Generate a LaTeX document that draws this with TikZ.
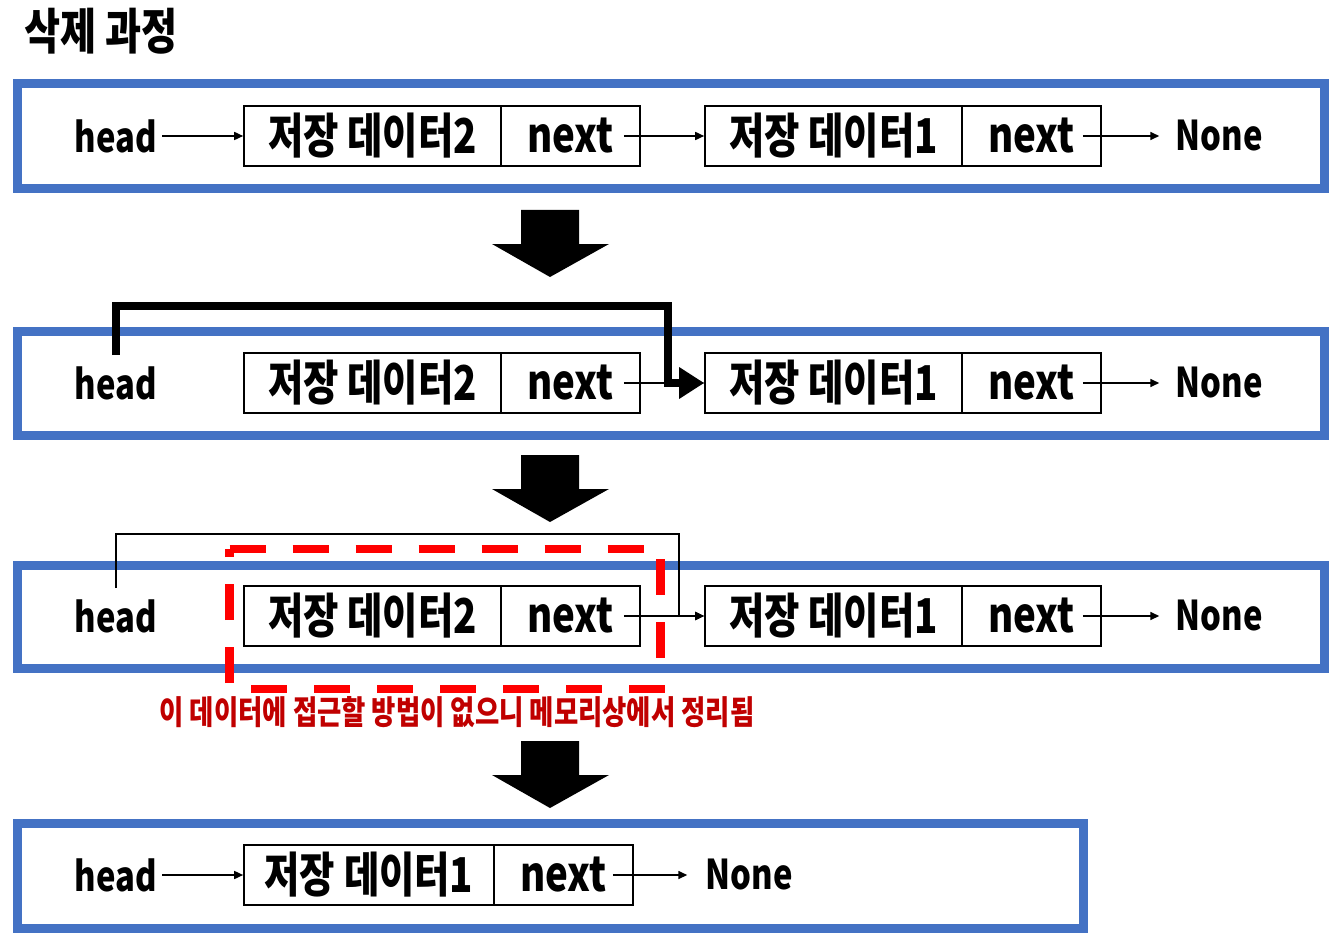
\documentclass[tikz,border=0pt]{standalone}
\usepackage{fontspec}
\usetikzlibrary{arrows.meta,calc}
\newfontfamily\kr{Noto Sans CJK KR Black}[FakeStretch=0.8]
\definecolor{pblue}{HTML}{4472C4}
\definecolor{dred}{HTML}{C00000}
\begin{document}
\begin{tikzpicture}[x=1pt,y=-1pt,
  panel/.style={draw=pblue, line width=9pt},
  cell/.style={draw, line width=1.6pt, minimum height=60pt, inner sep=0pt, font=\kr\fontsize{48}{52}\selectfont},
  lbl/.style={inner sep=0pt, font=\kr\fontsize{41}{45}\selectfont},
  ptr/.style={line width=1.6pt, -{Triangle[length=9pt,width=8pt]}},
  bigdown/.style={fill=black},
  jump/.style={line width=8pt, line join=miter, -{Triangle[length=25pt,width=30pt]}},
  thinjump/.style={line width=2.4pt, -{Triangle[length=9pt,width=8pt]}},
  gone/.style={draw=red, line width=8.5pt, dash pattern=on 36pt off 27pt}
]
\useasboundingbox (0,0) rectangle (1329,933);

% title
\node[inner sep=0pt, font=\kr\fontsize{49}{53}\selectfont] (title) at (101,31) {삭제 과정};

% ---------- panel 1 ----------
\draw[panel] (17.5,83.5) rectangle (1324.5,188.5);
\node[lbl] (h1) at (116,136) {head};
\node[cell, minimum width=257pt] (d1a) at (372.5,136) {저장 데이터2};
\node[cell, minimum width=139pt] (n1a) at (570.5,136) {next};
\node[cell, minimum width=257pt] (d1b) at (833.5,136) {저장 데이터1};
\node[cell, minimum width=139pt] (n1b) at (1031.5,136) {next};
\node[lbl] (z1) at (1219,136) {None};
\draw[ptr, shorten <=5pt] (h1) -- (d1a.west);
\draw[ptr] ([xshift=-17pt]n1a.east) -- (d1b.west);
\draw[ptr, shorten >=16pt] ([xshift=-19pt]n1b.east) -- (z1.west);

\fill[bigdown] (521,210) -- (579,210) -- (579,244) -- (609,244) -- (550,277) -- (492,244) -- (521,244) -- cycle;

% ---------- panel 2 ----------
\draw[panel] (17.5,331.5) rectangle (1324.5,435.5);
\node[lbl] (h2) at (116,383) {head};
\node[cell, minimum width=257pt] (d2a) at (372.5,383) {저장 데이터2};
\node[cell, minimum width=139pt] (n2a) at (570.5,383) {next};
\node[cell, minimum width=257pt] (d2b) at (833.5,383) {저장 데이터1};
\node[cell, minimum width=139pt] (n2b) at (1031.5,383) {next};
\node[lbl] (z2) at (1219,383) {None};
\draw[ptr] ([xshift=-17pt]n2a.east) -- (d2b.west);
\draw[ptr, shorten >=16pt] ([xshift=-19pt]n2b.east) -- (z2.west);
\coordinate (s2) at (116,355);
\draw[jump] (s2) -- (116,306) -- (668,306) -- (668,383) -- (d2b.west);

\fill[bigdown] (521,455) -- (579,455) -- (579,489) -- (609,489) -- (550,522) -- (492,489) -- (521,489) -- cycle;

% ---------- panel 3 ----------
\draw[panel] (17.5,565.5) rectangle (1324.5,668.5);
\node[lbl] (h3) at (116,616) {head};
\node[cell, minimum width=257pt] (d3a) at (372.5,616) {저장 데이터2};
\node[cell, minimum width=139pt] (n3a) at (570.5,616) {next};
\node[cell, minimum width=257pt] (d3b) at (833.5,616) {저장 데이터1};
\node[cell, minimum width=139pt] (n3b) at (1031.5,616) {next};
\node[lbl] (z3) at (1219,616) {None};
\draw[ptr] ([xshift=-17pt]n3a.east) -- (d3b.west);
\draw[ptr, shorten >=16pt] ([xshift=-19pt]n3b.east) -- (z3.west);
\coordinate (s3) at (116,588);
\draw[thinjump] (s3) -- (116,534) -- (679,534) -- (679,616) -- (d3b.west);
\draw[gone] (229.5,549) -- (660.5,549) -- (660.5,689) -- (229.5,689) -- cycle;
\node[inner sep=0pt, text=dred, font=\kr\fontsize{33}{37}\selectfont] (note) at (457,712) {이 데이터에 접근할 방법이 없으니 메모리상에서 정리됨};

\fill[bigdown] (521,741) -- (579,741) -- (579,775) -- (609,775) -- (550,808) -- (492,775) -- (521,775) -- cycle;

% ---------- panel 4 ----------
\draw[panel] (17.5,823.5) rectangle (1083.5,928.5);
\node[lbl] (h4) at (116,875) {head};
\node[cell, minimum width=250pt] (d4a) at (369,875) {저장 데이터1};
\node[cell, minimum width=139pt] (n4a) at (563.5,875) {next};
\node[lbl] (z4) at (749,875) {None};
\draw[ptr, shorten <=5pt] (h4) -- (d4a.west);
\draw[ptr, shorten >=18pt] ([xshift=-21pt]n4a.east) -- (z4.west);
\end{tikzpicture}
\end{document}
